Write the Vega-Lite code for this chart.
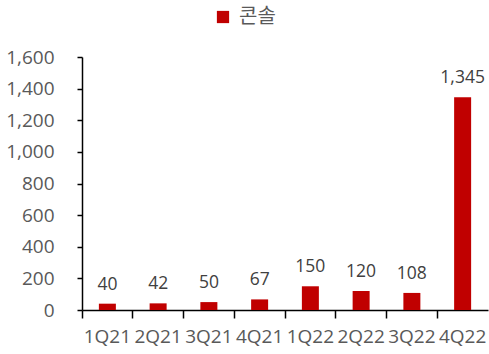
{
  "$schema": "https://vega.github.io/schema/vega-lite/v6.json",
  "autosize": {"type": "none"},
  "padding": {"left": 82, "top": 57, "right": 1, "bottom": 44},
  "width": 406,
  "height": 253,
  "background": "white",
  "config": {
    "view": {"stroke": null},
    "font": "Open Sans"
  },
  "data": {
    "values": [
      {"quarter": "1Q21", "series": "콘솔", "value": 40},
      {"quarter": "2Q21", "series": "콘솔", "value": 42},
      {"quarter": "3Q21", "series": "콘솔", "value": 50},
      {"quarter": "4Q21", "series": "콘솔", "value": 67},
      {"quarter": "1Q22", "series": "콘솔", "value": 150},
      {"quarter": "2Q22", "series": "콘솔", "value": 120},
      {"quarter": "3Q22", "series": "콘솔", "value": 108},
      {"quarter": "4Q22", "series": "콘솔", "value": 1345}
    ]
  },
  "encoding": {
    "x": {
      "field": "quarter",
      "type": "ordinal",
      "sort": null,
      "scale": {"paddingInner": 0, "paddingOuter": 0},
      "axis": {
        "title": null,
        "labelAngle": 0,
        "bandPosition": 0,
        "labelFontSize": 19,
        "labelColor": "#595959",
        "labelPadding": 9,
        "tickSize": 8,
        "tickColor": "#000000",
        "tickWidth": 1.5,
        "domainColor": "#000000",
        "domainWidth": 1.5,
        "grid": false
      }
    },
    "y": {
      "field": "value",
      "type": "quantitative",
      "scale": {"domain": [0, 1600], "nice": false},
      "axis": {
        "title": null,
        "values": [0, 200, 400, 600, 800, 1000, 1200, 1400, 1600],
        "format": ",d",
        "labelFontSize": 19,
        "labelColor": "#595959",
        "labelPadding": 23,
        "tickSize": 5,
        "tickColor": "#000000",
        "tickWidth": 1.5,
        "domainColor": "#000000",
        "domainWidth": 1.5,
        "grid": false
      }
    }
  },
  "layer": [
    {
      "mark": {"type": "bar", "size": 17},
      "encoding": {
        "color": {
          "field": "series",
          "type": "nominal",
          "scale": {"range": ["#C00000"]},
          "legend": {
            "title": null,
            "orient": "none",
            "legendX": 131,
            "legendY": -50,
            "symbolType": "square",
            "symbolSize": 150,
            "symbolStrokeWidth": 0,
            "labelFont": "Noto Sans CJK KR",
            "labelFontSize": 20,
            "labelColor": "#595959",
            "labelOffset": 6
          }
        }
      }
    },
    {
      "mark": {
        "type": "text",
        "baseline": "bottom",
        "dy": -10,
        "fontSize": 17.5,
        "color": "#404040"
      },
      "encoding": {
        "text": {"field": "value", "type": "quantitative", "format": ",d"}
      }
    }
  ]
}
